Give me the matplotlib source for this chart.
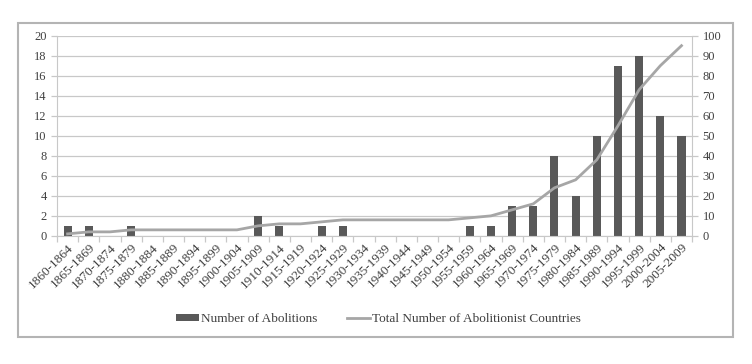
import matplotlib
matplotlib.use("Agg")
import matplotlib.pyplot as plt
from matplotlib.patches import Rectangle

# periods, abolitions per period and running total of abolitionist countries
periods = ["1860-1864", "1865-1869", "1870-1874", "1875-1879", "1880-1884",
           "1885-1889", "1890-1894", "1895-1899", "1900-1904", "1905-1909",
           "1910-1914", "1915-1919", "1920-1924", "1925-1929", "1930-1934",
           "1935-1939", "1940-1944", "1945-1949", "1950-1954", "1955-1959",
           "1960-1964", "1965-1969", "1970-1974", "1975-1979", "1980-1984",
           "1985-1989", "1990-1994", "1995-1999", "2000-2004", "2005-2009"]
abolitions = [1, 1, 0, 1, 0, 0, 0, 0, 0, 2,
              1, 0, 1, 1, 0, 0, 0, 0, 0, 1,
              1, 3, 3, 8, 4, 10, 17, 18, 12, 10]
total = [1, 2, 2, 3, 3, 3, 3, 3, 3, 5,
         6, 6, 7, 8, 8, 8, 8, 8, 8, 9,
         10, 13, 16, 24, 28, 38, 55, 73, 85, 95]

plt.rcParams['font.family'] = ['Liberation Serif', 'DejaVu Serif']

fig = plt.figure(figsize=(7.52, 3.64), dpi=100)
ax = fig.add_axes([0.0758, 0.352, 0.8445, 0.550])
ax2 = ax.twinx()

x = list(range(len(periods)))
grid_c = "#c8c8c8"
txt_c = "#404040"

bars = ax.bar(x, abolitions, width=0.38, color="#595959", zorder=2,
              label="Number of Abolitions")
ln, = ax2.plot(x, total, color="#a6a6a6", lw=2, zorder=3,
               label="Total Number of Abolitionist Countries")

ax.set_xlim(-0.5, len(periods) - 0.5)
ax.set_ylim(0, 20)
ax.set_yticks(range(0, 21, 2))
ax2.set_ylim(0, 100)
ax2.set_yticks(range(0, 101, 10))

# line drawn over the bars
ax.set_zorder(ax2.get_zorder() - 1)
ax2.patch.set_visible(False)
ax.yaxis.grid(True, color=grid_c, lw=0.9, zorder=0)
ax.set_axisbelow(True)

for a in (ax, ax2):
    a.spines["top"].set_visible(False)
    for s in ("left", "right", "bottom"):
        a.spines[s].set_color(grid_c)
    a.tick_params(axis="y", colors=grid_c, labelcolor=txt_c, labelsize=9,
                  length=4, width=0.9)
ax.spines["right"].set_visible(False)
ax2.spines["left"].set_visible(False)
ax2.spines["bottom"].set_visible(False)

ax.set_xticks([i - 0.5 for i in range(len(periods) + 1)])
ax.set_xticklabels([])
ax.tick_params(axis="x", colors=grid_c, length=4, width=0.9)
ax.set_xticks(x, minor=True)
ax.set_xticklabels(periods, minor=True, rotation=45, ha="right",
                   rotation_mode="anchor", fontsize=9.5, color=txt_c)
ax.tick_params(axis="x", which="minor", length=0, pad=4)

fig.legend([bars, ln], ["Number of Abolitions",
                        "Total Number of Abolitionist Countries"],
           loc="center", bbox_to_anchor=(0.503, 0.123), ncol=2, frameon=False,
           fontsize=9.5, handlelength=1.75, handleheight=0.45,
           handletextpad=0.15, columnspacing=2.2, labelcolor=txt_c)

fig.patches.append(Rectangle((18 / 752, 1 - 337 / 364), (733 - 18) / 752,
                             (337 - 23) / 364, transform=fig.transFigure,
                             fill=False, edgecolor="#b4b4b4", lw=1.5))

fig.savefig("out.png", dpi=100)
